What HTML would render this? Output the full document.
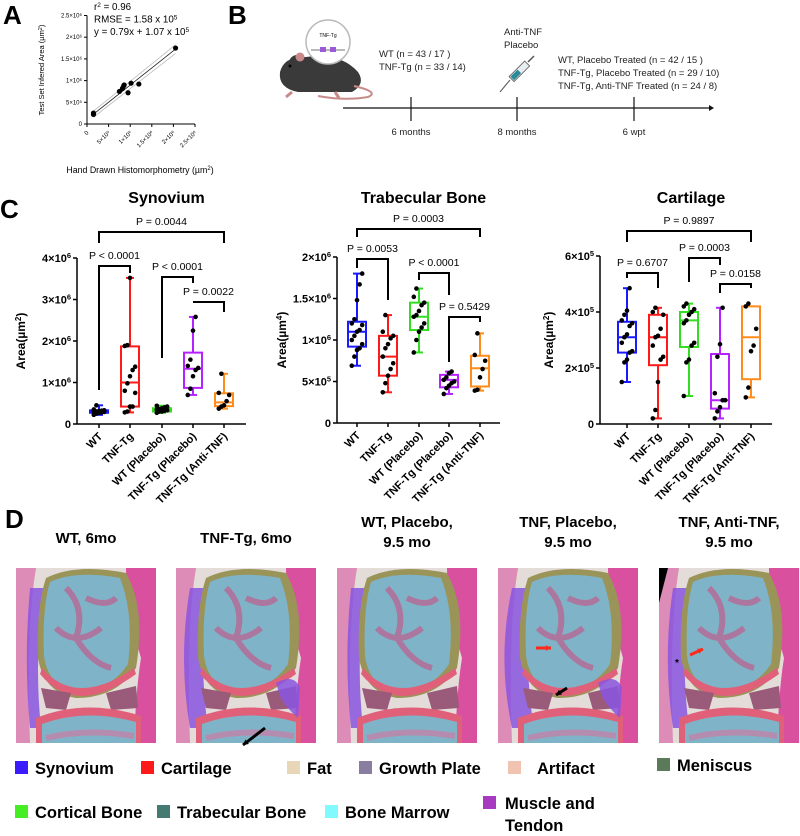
<!DOCTYPE html>
<html><head><meta charset="utf-8"><style>
html,body{margin:0;padding:0;background:#fff;}
body{width:800px;height:831px;overflow:hidden;position:relative;font-family:"Liberation Sans",Arial,sans-serif;}
svg text{font-family:"Liberation Sans",Arial,sans-serif;}
</style></head><body>
<svg id="fig" width="800" height="831" viewBox="0 0 800 831" xmlns="http://www.w3.org/2000/svg">
<text x="3" y="24" font-size="26" font-weight="bold">A</text>
<text x="228" y="24" font-size="26" font-weight="bold">B</text>
<text x="0" y="218" font-size="26" font-weight="bold">C</text>
<text x="5" y="528" font-size="26" font-weight="bold">D</text>

<g id="panelA"></g>

<g>
  <g>
    <path d="M280,72 Q284,56 306,57 Q340,52 358,72 Q366,84 352,92 L298,92 Q278,88 280,72Z" fill="#3a3a3a"/>
    <circle cx="297" cy="63" r="8" fill="#3a3a3a"/>
    <circle cx="300" cy="57" r="4.5" fill="#c98a8a"/>
    <circle cx="290" cy="66" r="1.5" fill="#000"/>
    <path d="M354,86 Q380,92 368,97 Q345,101 318,96" stroke="#c98a8a" stroke-width="2" fill="none"/>
    <path d="M292,92 l-6,5 M335,92 l4,6" stroke="#c98a8a" stroke-width="3"/>
    <circle cx="328" cy="42" r="22" fill="#fff" stroke="#bbb" stroke-width="1.5"/>
    <text x="328" y="37" font-size="5" text-anchor="middle">TNF-Tg</text>
    <line x1="311" y1="50" x2="345" y2="50" stroke="#444" stroke-width="0.8"/>
    <rect x="320" y="47" width="6" height="5" fill="#9a5ad8"/><rect x="330" y="47" width="6" height="5" fill="#9a5ad8"/>
  </g>
  <line x1="343" y1="108" x2="710" y2="108" stroke="#111" stroke-width="1.2"/>
  <path d="M709,105 L714,108 L709,111Z" fill="#111"/>
  <line x1="411" y1="97" x2="411" y2="121" stroke="#111" stroke-width="1.2"/>
  <line x1="517" y1="97" x2="517" y2="121" stroke="#111" stroke-width="1.2"/>
  <line x1="634" y1="97" x2="634" y2="121" stroke="#111" stroke-width="1.2"/>
  <g font-size="9.5" fill="#222">
    <text x="411" y="135" text-anchor="middle">6 months</text>
    <text x="517" y="135" text-anchor="middle">8 months</text>
    <text x="634" y="135" text-anchor="middle">6 wpt</text>
    <text x="379" y="57">WT (n = 43 / 17 )</text>
    <text x="379" y="70">TNF-Tg (n = 33 / 14)</text>
    <text x="504" y="35">Anti-TNF</text>
    <text x="504" y="48">Placebo</text>
    <text x="558" y="63">WT, Placebo Treated  (n = 42 / 15 )</text>
    <text x="558" y="76">TNF-Tg, Placebo Treated (n = 29 / 10)</text>
    <text x="558" y="89">TNF-Tg, Anti-TNF Treated (n = 24 / 8)</text>
  </g>
  <g>
    <line x1="500" y1="92" x2="510" y2="80" stroke="#555" stroke-width="1"/>
    <rect x="508" y="68" width="22" height="7" transform="rotate(-45 519 71)" fill="#e8eef0" stroke="#555" stroke-width="0.8"/>
    <rect x="509" y="69" width="10" height="5" transform="rotate(-45 519 71)" fill="#2a8a9a"/>
    <line x1="528" y1="62" x2="534" y2="56" stroke="#555" stroke-width="1.5"/>
  </g>
</g>

<g id="charts"></g>
<g id="histo"></g>
<g id="legend"></g>
</svg>
<script>
var NS="http://www.w3.org/2000/svg";
function mk(tag,attrs,parent){var e=document.createElementNS(NS,tag);for(var k in attrs)e.setAttribute(k,attrs[k]);(parent||document.getElementById('fig')).appendChild(e);return e;}

/* ---------- Panel A data ---------- */
var aHand=[0.15,0.15,0.75,0.82,0.85,0.86,0.95,1.02,1.2,2.05];
var aInferred=[0.22,0.25,0.75,0.82,0.88,0.9,0.72,0.94,0.92,1.75];
var aSlope=0.79, aIntercept=0.107;
var aTicks=[0,0.5,1,1.5,2,2.5];
var aTickLabels=["0","5×10⁵","1×10⁶","1.5×10⁶","2×10⁶","2.5×10⁶"];
(function(){
  var g=document.getElementById('panelA');
  var x0=87,x1=195,y0=124,y1=15.5;
  function X(v){return x0+v/2.5*(x1-x0);} function Y(v){return y0-v/2.5*(y0-y1);}
  mk('line',{x1:x0,y1:y0,x2:x0,y2:y1,stroke:'#000','stroke-width':1},g);
  mk('line',{x1:x0,y1:y0,x2:x1,y2:y0,stroke:'#000','stroke-width':1},g);
  aTicks.forEach(function(t,i){
    mk('line',{x1:x0-3,y1:Y(t),x2:x0,y2:Y(t),stroke:'#000'},g);
    var yl=mk('text',{x:x0-5,y:Y(t)+2,'font-size':6,'text-anchor':'end'},g);yl.textContent=aTickLabels[i];
    
    
    mk('line',{x1:X(t),y1:y0,x2:X(t),y2:y0+3,stroke:'#000'},g);
    var xl=mk('text',{x:X(t)+2,y:y0+9,'font-size':6,'text-anchor':'end',transform:'rotate(-45 '+(X(t)+2)+' '+(y0+9)+')'},g);xl.textContent=aTickLabels[i];
    
    
  });
  var xa=0.15,xb=2.05;
  mk('line',{x1:X(xa),y1:Y(aSlope*xa+aIntercept+0.07),x2:X(xb),y2:Y(aSlope*xb+aIntercept+0.1),stroke:'#bbb','stroke-width':0.8},g);
  mk('line',{x1:X(xa),y1:Y(aSlope*xa+aIntercept-0.07),x2:X(xb),y2:Y(aSlope*xb+aIntercept-0.1),stroke:'#bbb','stroke-width':0.8},g);
  var rl=mk('line',{x1:X(xa),y1:Y(aSlope*xa+aIntercept),x2:X(xb),y2:Y(aSlope*xb+aIntercept),stroke:'#222','stroke-width':0.8},g);
  
  
  aHand.forEach(function(v,i){
    var c=mk('circle',{cx:X(v),cy:Y(aInferred[i]),r:2.6,fill:'#000'},g);
    
    
  });
  var t;
  t=mk('text',{x:94,y:10,'font-size':9.8},g);t.innerHTML='r<tspan dy="-3" font-size="6.5">2</tspan><tspan dy="3"> = 0.96</tspan>';
  t=mk('text',{x:94,y:22.5,'font-size':9.8},g);t.innerHTML='RMSE = 1.58 x 10<tspan dy="-3" font-size="6.5">5</tspan>';
  t=mk('text',{x:94,y:35,'font-size':9.8},g);t.innerHTML='y = 0.79x + 1.07 x 10<tspan dy="-3" font-size="6.5">5</tspan>';
  t=mk('text',{x:44,y:70,'font-size':7.5,'text-anchor':'middle',transform:'rotate(-90 44 70)'},g);t.innerHTML='Test Set Infered Area (µm<tspan dy="-2" font-size="5.5">2</tspan><tspan dy="2">)</tspan>';
  
  
  t=mk('text',{x:140,y:173,'font-size':8.8,'text-anchor':'middle'},g);t.innerHTML='Hand Drawn Histomorphometry (µm<tspan dy="-3" font-size="6">2</tspan><tspan dy="3">)</tspan>';
  
  
})();

/* ---------- Panel C data ---------- */
var categories=["WT","TNF-Tg","WT (Placebo)","TNF-Tg (Placebo)","TNF-Tg (Anti-TNF)"];
var groupColors=["#1a1aff","#ff1a1a","#33dd22","#b522ff","#ff8c1a"];
var synBoxes=[[0.22,0.27,0.3,0.33,0.45],[0.28,0.42,1.0,1.87,3.52],[0.27,0.3,0.34,0.38,0.44],[0.7,0.87,1.33,1.72,2.58],[0.37,0.43,0.52,0.74,1.21]];
var synPoints=[[0.22,0.25,0.27,0.28,0.29,0.3,0.3,0.31,0.32,0.33,0.35,0.45],[0.28,0.3,0.42,0.42,0.75,0.8,0.98,1.15,1.3,1.38,1.88,1.9,3.52],[0.27,0.3,0.3,0.32,0.33,0.35,0.36,0.38,0.4,0.42,0.44],[0.7,0.85,1.15,1.3,1.35,1.4,1.55,2.25,2.58],[0.37,0.42,0.45,0.55,0.7,0.75,1.21]];
var synTicks=[0,1,2,3,4];
var synTickLabels=["0","1×10⁶","2×10⁶","3×10⁶","4×10⁶"];
var trabBoxes=[[0.69,0.92,1.1,1.22,1.8],[0.37,0.57,0.8,1.05,1.3],[0.85,1.12,1.28,1.45,1.62],[0.35,0.43,0.52,0.58,0.62],[0.39,0.44,0.66,0.81,1.08]];
var trabPoints=[[0.69,0.8,0.88,0.9,0.95,1.0,1.05,1.1,1.12,1.18,1.2,1.25,1.48,1.67,1.8],[0.37,0.48,0.57,0.65,0.72,0.8,0.9,0.95,1.02,1.05,1.1,1.3],[0.85,1.0,1.1,1.15,1.2,1.28,1.3,1.35,1.42,1.45,1.52,1.62],[0.35,0.42,0.45,0.48,0.5,0.52,0.55,0.6,0.62],[0.39,0.4,0.55,0.65,0.75,0.82,1.08]];
var trabTicks=[0,0.5,1,1.5,2];
var trabTickLabels=["0","5×10⁵","1×10⁶","1.5×10⁶","2×10⁶"];
var cartBoxes=[[1.5,2.55,3.1,3.65,4.85],[0.2,2.1,3.1,3.9,4.15],[1.0,2.75,3.7,4.0,4.3],[0.2,0.55,0.85,2.5,4.15],[0.95,1.6,3.1,4.2,4.2]];
var cartPoints=[[1.5,2.2,2.3,2.55,2.6,2.9,3.1,3.2,3.5,3.6,3.7,3.9,4.05,4.85],[0.2,0.5,1.5,2.3,2.4,2.8,3.1,3.15,3.4,3.9,4.0,4.15],[1.0,2.2,2.3,2.8,2.9,3.6,3.7,3.9,4.0,4.1,4.2,4.3],[0.2,0.45,0.6,0.85,0.85,1.1,2.4,2.85,4.15],[0.95,1.3,2.6,2.8,3.4,4.2,4.3]];
var cartTicks=[0,2,4,6];
var cartTickLabels=["0","2×10⁵","4×10⁵","6×10⁵"];
var synP=["P = 0.0044","P < 0.0001","P < 0.0001","P = 0.0022"];
var trabP=["P = 0.0003","P = 0.0053","P < 0.0001","P = 0.5429"];
var cartP=["P = 0.9897","P = 0.6707","P = 0.0003","P = 0.0158"];

function drawChart(cfg){
  var g=mk('g',{},document.getElementById('charts'));
  
  
  function Y(v){return cfg.y0-(v/cfg.max)*(cfg.y0-cfg.ytop);}
  var t=mk('text',{x:(cfg.ax+cfg.axEnd)/2+5,y:203,'font-size':16,'font-weight':'bold','text-anchor':'middle'},g);t.textContent=cfg.title;
  
  
  mk('line',{x1:cfg.ax,y1:cfg.ytop,x2:cfg.ax,y2:cfg.y0,stroke:'#000','stroke-width':1.5},g);
  mk('line',{x1:cfg.ax,y1:cfg.y0,x2:cfg.axEnd,y2:cfg.y0,stroke:'#000','stroke-width':1.5},g);
  cfg.ticks.forEach(function(tv,i){
    mk('line',{x1:cfg.ax-4,y1:Y(tv),x2:cfg.ax,y2:Y(tv),stroke:'#000','stroke-width':1.5},g);
    var lab=cfg.tickLabels[i];var m=lab.match(/^(.*×10)(.)$/);
    var tl=mk('text',{x:cfg.ax-6,y:Y(tv)+4,'font-size':11,'font-weight':'bold','text-anchor':'end'},g);
    if(m){tl.innerHTML=m[1]+'<tspan dy="-4" font-size="7.5">'+({'⁶':'6','⁵':'5'}[m[2]])+'</tspan>';}else tl.textContent=lab;
    
    
  });
  var yt=mk('text',{x:cfg.ytx,y:(cfg.y0+cfg.ytop)/2,'font-size':12,'font-weight':'bold','text-anchor':'middle',transform:'rotate(-90 '+cfg.ytx+' '+((cfg.y0+cfg.ytop)/2)+')'},g);
  yt.innerHTML='Area(µm<tspan dy="-4" font-size="8">'+cfg.unitPow+'</tspan><tspan dy="4">)</tspan>';
  
  
  categories.forEach(function(c,i){
    var cx=cfg.cx[i];var col=groupColors[i];var b=cfg.boxes[i];
    mk('line',{x1:cx,y1:cfg.y0,x2:cx,y2:cfg.y0+4,stroke:'#000','stroke-width':1.5},g);
    var xl=mk('text',{x:cx+4,y:cfg.y0+13,'font-size':11,'font-weight':'bold','text-anchor':'end',transform:'rotate(-45 '+(cx+4)+' '+(cfg.y0+13)+')'},g);xl.textContent=c;
    
    
    var w=9;
    var wh=mk('line',{x1:cx,y1:Y(b[0]),x2:cx,y2:Y(b[4]),stroke:col,'stroke-width':2},g);
    
    
    mk('line',{x1:cx-4,y1:Y(b[0]),x2:cx+4,y2:Y(b[0]),stroke:col,'stroke-width':2},g);
    mk('line',{x1:cx-4,y1:Y(b[4]),x2:cx+4,y2:Y(b[4]),stroke:col,'stroke-width':2},g);
    var bx=mk('rect',{x:cx-w,y:Y(b[3]),width:2*w,height:Y(b[1])-Y(b[3]),fill:'#fff',stroke:col,'stroke-width':2},g);
    
    
    mk('line',{x1:cx-w,y1:Y(b[2]),x2:cx+w,y2:Y(b[2]),stroke:col,'stroke-width':2},g);
    cfg.points[i].forEach(function(v,j){
      var off=((j%5)-2)*2.6;
      var p=mk('circle',{cx:cx+off,cy:Y(v),r:2.3,fill:'#000'},g);
      
      
    });
  });
  cfg.brackets.forEach(function(br,k){
    var xa=cfg.cx[br[0]],xb=cfg.cx[br[1]];
    var bl=mk('path',{d:'M'+xa+','+br[3]+' L'+xa+','+br[2]+' L'+xb+','+br[2]+' L'+xb+','+br[4],fill:'none',stroke:'#000','stroke-width':2},g);
    
    
    var pl=mk('text',{x:(xa+xb)/2,y:br[2]-7,'font-size':10.5,'text-anchor':'middle'},g);pl.textContent=cfg.plabels[k];
    
    
  });
}
drawChart({name:'synovium-chart',title:'Synovium',ax:77,axEnd:246,y0:424,ytop:258,max:4,ticks:synTicks,tickLabels:synTickLabels,boxes:synBoxes,points:synPoints,cx:[99,130,162,193,224],ytx:25,unitPow:'2',plabels:synP,
  brackets:[[0,4,232,243,243],[0,1,266,390,273],[2,3,277,358,283],[3,4,302,302,312]]});
drawChart({name:'trabecular-bone-chart',title:'Trabecular Bone',ax:337,axEnd:500,y0:423,ytop:257,max:2,ticks:trabTicks,tickLabels:trabTickLabels,boxes:trabBoxes,points:trabPoints,cx:[357,388,419,449,480],ytx:286,unitPow:'4',plabels:trabP,
  brackets:[[0,4,229,237,237],[0,1,259,268,300],[2,3,273,280,295],[3,4,317,362,322]]});
drawChart({name:'cartilage-chart',title:'Cartilage',ax:600,axEnd:772,y0:424,ytop:256,max:6,ticks:cartTicks,tickLabels:cartTickLabels,boxes:cartBoxes,points:cartPoints,cx:[627,658,689,720,751],ytx:553,unitPow:'2',plabels:cartP,
  brackets:[[0,4,231,242,242],[0,1,273,278,288],[2,3,258,282,265],[3,4,284,293,288]]});

/* ---------- Panel D histology ---------- */
var histTitles=[["WT, 6mo"],["TNF-Tg, 6mo"],["WT, Placebo,","9.5 mo"],["TNF, Placebo,","9.5 mo"],["TNF, Anti-TNF,","9.5 mo"]];
var histX=[16,176,337,498,659];
var synAmount=[0.3,1,0.4,1.4,0.8];
(function(){
  var root=document.getElementById('histo');
  histX.forEach(function(x0,i){
    var g=mk('g',{transform:'translate('+x0+',568)'},root);
    
    
    var tt=histTitles[i];
    tt.forEach(function(line,k){
      var t=mk('text',{x:70,y:(tt.length==1?-25:-41+k*20),'font-size':15,'font-weight':'bold','text-anchor':'middle'},g);t.textContent=line;
      
      
    });
    mk('rect',{x:0,y:0,width:140,height:175,fill:'#e4dcd8'},g);
    mk('path',{d:'M110,0 L140,0 L140,175 L118,175 Q120,120 125,90 Q110,40 110,0Z',fill:'#d9509e'},g);
    mk('path',{d:'M0,0 L20,0 Q10,60 14,175 L0,175Z',fill:'#d86aa8','opacity':0.7},g);
    var s=synAmount[i];
    mk('path',{d:'M14,20 Q'+(10-8*s)+',90 '+(14)+',160 L'+(22+10*s)+',160 Q'+(16+6*s)+',90 '+(26+6*s)+',20Z',fill:'#8a55e0',opacity:0.85},g);
    mk('path',{d:'M30,10 Q60,-5 110,5 Q130,40 120,100 Q100,130 60,130 Q28,125 22,90 Q20,40 30,10Z',fill:'#9a9458'},g);
    mk('path',{d:'M34,14 Q60,2 104,10 Q118,45 112,96 Q95,122 60,124 Q32,118 28,88 Q26,40 34,14Z',fill:'#7fb4c8'},g);
    mk('path',{d:'M50,20 Q70,40 60,70 Q75,95 95,100 M40,60 Q60,80 85,60 M70,30 Q90,40 100,30',stroke:'#b46c98','stroke-width':6,fill:'none',opacity:0.85},g);
    mk('path',{d:'M26,100 Q60,140 118,100 L120,106 Q60,150 24,106Z',fill:'#e0607a'},g);
    mk('path',{d:'M25,120 L55,125 L50,142 L30,140Z M90,125 L120,118 L122,140 L95,142Z',fill:'#9a5a7a'},g);
    mk('path',{d:'M20,150 Q70,130 125,148 L125,175 L20,175Z',fill:'#e0607a'},g);
    mk('path',{d:'M26,156 Q70,140 120,154 L120,175 L26,175Z',fill:'#7fb4c8'},g);
    mk('path',{d:'M30,170 Q70,160 118,168',stroke:'#b48cb0','stroke-width':6,fill:'none'},g);
    if(s>0.9){mk('path',{d:'M100,115 Q118,105 124,120 L122,150 Q110,140 104,128Z',fill:'#8a55e0',opacity:0.85},g);}
  });
  function arrow(x1,y1,x2,y2,col,name){var a=mk('line',{x1:x1,y1:y1,x2:x2,y2:y2,stroke:col,'stroke-width':3},root);
    
    var ang=Math.atan2(y2-y1,x2-x1),L=6;
    mk('path',{d:'M'+x2+','+y2+' L'+(x2-L*Math.cos(ang-0.5))+','+(y2-L*Math.sin(ang-0.5))+' L'+(x2-L*Math.cos(ang+0.5))+','+(y2-L*Math.sin(ang+0.5))+'Z',fill:col},root);}
  arrow(265,728,243,745,'#000','black-arrow-1');
  arrow(536,648,551,648,'#ff2a1a','red-arrow-1');
  arrow(567,688,556,695,'#000','black-arrow-2');
  arrow(690,655,703,649,'#ff2a1a','red-arrow-2');
  mk('path',{d:'M659,568 L668,568 L659,603Z',fill:'#000'},root);
  var st=mk('text',{x:675,y:666,'font-size':10,'font-weight':'bold'},root);st.textContent='*';
})();

/* ---------- Legend ---------- */
var legendLabels=["Synovium","Cartilage","Fat","Growth Plate","Artifact","Meniscus","Cortical Bone","Trabecular Bone","Bone Marrow","Muscle and"];
var legendColors=["#3a1aff","#ff1a1a","#e8d6b8","#8a7ea0","#f0c4b0","#5a7a5a","#44ee22","#457a72","#80faff","#a83ac0"];
var legendPos=[[15,768],[141,768],[287,768],[359,768],[508,768],[657,765],[15,812],[157,812],[325,812],[483,803]];
(function(){
  var root=document.getElementById('legend');
  legendLabels.forEach(function(l,i){
    var p=legendPos[i];
    var g=mk('g',{},root);
    
    
    mk('rect',{x:p[0],y:p[1]-7,width:13,height:13,fill:legendColors[i]},g);
    var t=mk('text',{x:p[0]+(i>=9?22:(i==4?29:20)),y:p[1]+6,'font-size':16.5,'font-weight':'bold'},g);t.textContent=l;
    if(i==9){var t2=mk('text',{x:p[0]+22,y:p[1]+28,'font-size':16.5,'font-weight':'bold'},g);t2.textContent='Tendon';}
  });
})();
</script>
</body></html>
